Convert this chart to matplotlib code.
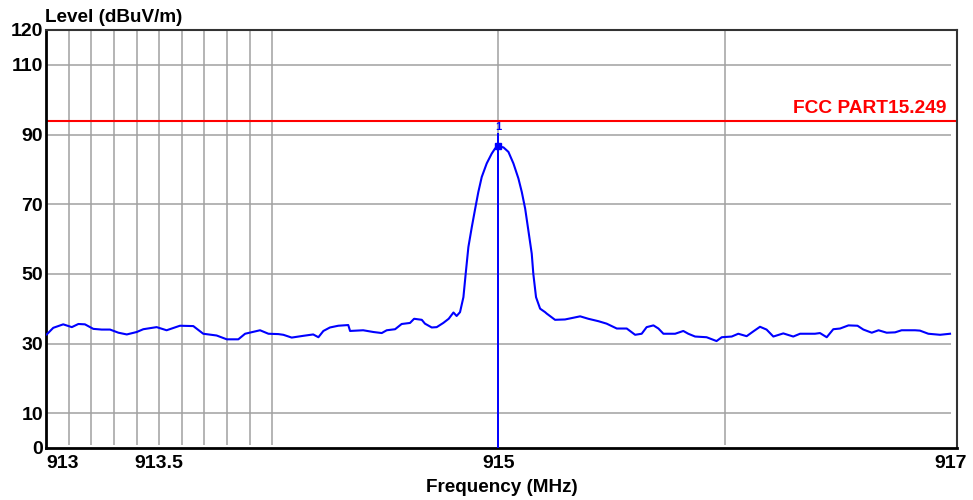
import matplotlib.pyplot as plt
import matplotlib
import numpy as np
matplotlib.rcParams['axes.unicode_minus'] = False
matplotlib.rc("font", family='Liberation Sans', weight='bold')

# trace: frequency (MHz), level (dBuV/m)
freq = [913.003, 913.032, 913.076, 913.114, 913.143, 913.172, 913.209, 913.246, 913.283,
        913.320, 913.357, 913.401, 913.430, 913.489, 913.533, 913.592, 913.651, 913.695,
        913.754, 913.799, 913.850, 913.880, 913.946, 913.983, 914.027, 914.049, 914.086,
        914.137, 914.181, 914.204, 914.226, 914.255, 914.292, 914.336, 914.344, 914.402,
        914.447, 914.484, 914.506, 914.543, 914.572, 914.609, 914.627, 914.661, 914.675,
        914.705, 914.727, 914.756, 914.780, 914.801, 914.815, 914.830, 914.845, 914.855,
        914.867, 914.882, 914.897, 914.911, 914.926, 914.948, 914.970, 914.985, 915.000,
        915.022, 915.044, 915.066, 915.088, 915.103, 915.118, 915.132, 915.147, 915.154,
        915.166, 915.184, 915.206, 915.213, 915.250, 915.294, 915.324, 915.361, 915.397,
        915.442, 915.478, 915.523, 915.567, 915.604, 915.633, 915.655, 915.685, 915.707,
        915.729, 915.781, 915.817, 915.839, 915.869, 915.920, 915.964, 915.987, 916.031,
        916.060, 916.097, 916.127, 916.156, 916.185, 916.215, 916.259, 916.303, 916.333,
        916.399, 916.421, 916.451, 916.480, 916.510, 916.547, 916.587, 916.613, 916.650,
        916.680, 916.716, 916.753, 916.782, 916.841, 916.863, 916.900, 916.952, 916.996]
level = [32.6, 34.5, 35.5, 34.7, 35.6, 35.5, 34.2, 34.0, 34.0,
         33.1, 32.6, 33.3, 34.1, 34.7, 33.8, 35.1, 35.0, 32.8,
         32.3, 31.2, 31.2, 32.8, 33.8, 32.8, 32.7, 32.5, 31.7,
         32.2, 32.6, 31.8, 33.6, 34.6, 35.1, 35.3, 33.6, 33.8,
         33.3, 33.0, 33.8, 34.1, 35.6, 35.9, 37.1, 36.8, 35.7,
         34.6, 34.7, 35.9, 37.1, 38.9, 37.9, 39.0, 43.3, 50.0,
         57.7, 63.4, 68.7, 73.5, 77.8, 81.7, 84.5, 86.0, 86.6,
         86.3, 85.0, 81.7, 77.4, 73.5, 68.7, 62.5, 55.8, 50.0,
         43.3, 40.0, 39.0, 38.6, 36.8, 36.9, 37.3, 37.8, 37.1,
         36.4, 35.7, 34.3, 34.3, 32.5, 32.8, 34.7, 35.2, 34.3,
         32.8, 32.8, 33.6, 32.8, 32.0, 31.8, 30.7, 31.8, 32.0,
         32.8, 32.1, 33.5, 34.8, 34.0, 32.0, 32.9, 32.0, 32.8,
         32.8, 33.0, 31.8, 34.1, 34.3, 35.2, 35.1, 34.0, 33.1,
         33.8, 33.1, 33.2, 33.8, 33.8, 33.7, 32.8, 32.5, 32.8]

limit = 94
limit_name = 'FCC PART15.249'
peak_freq = 915.0
peak_level = 86.6

x_ticks = [913, 913.5, 915, 917]
x_grid = [913.1, 913.2, 913.3, 913.4, 913.5, 913.6, 913.7, 913.8, 913.9, 914.0, 915, 916]
y_ticks = [0, 10, 30, 50, 70, 90, 110, 120]
y_grid = [10, 30, 50, 70, 90, 110]

fig = plt.figure(figsize=(9.73, 5.0), dpi=100)
ax = fig.add_axes([0.0473, 0.104, 0.9363, 0.836])
ax.set_xlim(913, 917.027)
ax.set_ylim(0, 120)

# grid
ax.vlines(x_grid, 1, 120, colors='#a0a0a0', linewidth=1.1, zorder=1)
ax.hlines(y_grid, 913, 917, colors='#a0a0a0', linewidth=1.1, zorder=1)

# limit line
ax.axhline(limit, color='#ff0000', linewidth=1.5, zorder=2)
ax.text(916.98, limit + 3.5, limit_name, color='#ff0000', fontsize=13.8,
        fontweight='bold', ha='right', va='center')

# trace
ax.plot(freq, level, color='#0000ff', linewidth=1.5, zorder=3)
ax.vlines(peak_freq, 0, 90.5, colors='#0000ff', linewidth=1.4, zorder=3)
ax.plot(peak_freq, peak_level, 's', color='#0000ff', markersize=4, zorder=4)
ax.text(peak_freq, 90.8, '1', color='#0000ff', fontsize=8, ha='center', va='bottom')

ax.set_xticks(x_ticks)
ax.set_xticklabels([str(v) for v in x_ticks], fontsize=14, fontweight='bold')
ax.get_xticklabels()[0].set_horizontalalignment('left')
ax.set_yticks(y_ticks)
ax.set_yticklabels([str(v) for v in y_ticks], fontsize=14, fontweight='bold')
ax.tick_params(length=0, pad=5)
ax.tick_params(axis='y', pad=2)

for s in ['left', 'bottom']:
    ax.spines[s].set_linewidth(2)
    ax.spines[s].set_color('black')
for s in ['top', 'right']:
    ax.spines[s].set_linewidth(1.5)
    ax.spines[s].set_color('#333333')

ax.set_xlabel('Frequency (MHz)', fontsize=13.6, fontweight='bold', labelpad=5)
fig.text(0.046, 0.964, 'Level (dBuV/m)', fontsize=13.6, fontweight='bold', ha='left', va='center')

plt.savefig('out.png', dpi=100)
